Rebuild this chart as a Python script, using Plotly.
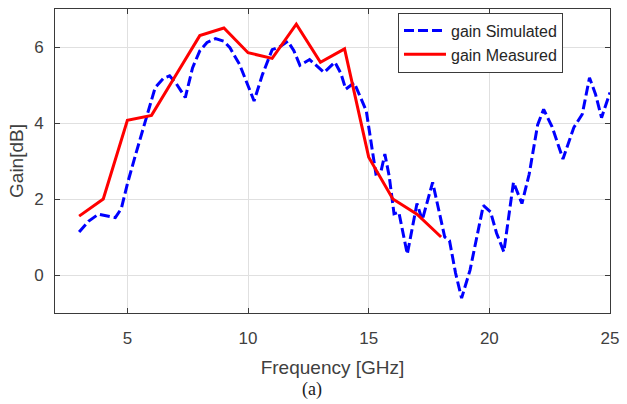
import plotly.graph_objects as go

# Simulated gain (dense sweep)
sim_freq = [3.0, 3.4, 3.8, 4.2, 4.5, 4.75, 5.0, 5.35, 5.75, 6.15, 6.5, 6.75, 7.0, 7.2, 7.4,
            7.7, 8.0, 8.3, 8.65, 9.0, 9.25, 9.65, 10.0, 10.25, 10.6, 11.0, 11.3, 11.65, 11.9,
            12.15, 12.55, 12.85, 13.15, 13.6, 13.85, 14.05, 14.4, 14.9, 15.1, 15.3, 15.5,
            15.67, 15.85, 16.05, 16.25, 16.6, 17.0, 17.22, 17.65, 18.15, 18.35, 18.6, 18.85,
            19.2, 19.75, 20.05, 20.3, 20.6, 21.0, 21.35, 21.65, 22.0, 22.25, 22.6, 23.05,
            23.5, 23.85, 24.15, 24.4, 24.65, 25.0]
sim_gain = [1.13, 1.42, 1.6, 1.55, 1.51, 1.75, 2.4, 3.19, 4.06, 4.93, 5.18, 5.24, 5.06, 4.85,
            4.67, 5.45, 5.9, 6.12, 6.22, 6.15, 5.98, 5.54, 5.0, 4.58, 5.28, 5.93, 6.0, 6.15,
            5.9, 5.52, 5.67, 5.5, 5.33, 5.6, 5.3, 4.89, 5.06, 4.32, 3.45, 2.66, 2.7, 3.18,
            2.6, 1.61, 1.65, 0.55, 1.88, 1.45, 2.44, 1.0, 0.9, 0.05, -0.61, 0.13, 1.83, 1.66,
            1.1, 0.61, 2.44, 1.88, 2.65, 3.95, 4.36, 3.9, 3.05, 3.88, 4.23, 5.19, 4.76, 4.14,
            4.8]

# Measured gain (1 GHz steps)
meas_freq = [3, 4, 5, 6, 7, 8, 9, 10, 11, 12, 13, 14, 15, 16, 17, 18]
meas_gain = [1.55, 2.0, 4.07, 4.2, 5.25, 6.3, 6.5, 5.85, 5.7, 6.6, 5.6, 5.95, 3.1, 2.0, 1.6, 1.0]

x_ticks = [5, 10, 15, 20, 25]
y_ticks = [0, 2, 4, 6]

FONT = "Arial, Liberation Sans, Helvetica, sans-serif"
TXT = "#404040"
AX = "#3a3a3a"
GRID = "#e0e0e0"

fig = go.Figure()
fig.add_trace(go.Scatter(
    x=sim_freq, y=sim_gain, mode="lines", name="gain Simulated",
    line=dict(color="#0000ff", width=3, dash="10px,4px"),
))
fig.add_trace(go.Scatter(
    x=meas_freq, y=meas_gain, mode="lines", name="gain Measured",
    line=dict(color="#ff0000", width=3),
))

axis_common = dict(
    showline=True, mirror="ticks", linecolor=AX, linewidth=1,
    ticks="inside", ticklen=5, tickcolor=AX,
    showgrid=True, gridcolor=GRID, gridwidth=1,
    zeroline=False,
    tickfont=dict(family=FONT, size=17, color=TXT),
)

fig.update_layout(
    width=627, height=404,
    margin=dict(l=55, r=15, t=8, b=91),
    paper_bgcolor="white", plot_bgcolor="white",
    font=dict(family=FONT, color=TXT),
    xaxis=dict(
        range=[2, 25], tickvals=x_ticks, ticklabelstandoff=10,
        title=dict(text="Frequency [GHz]", font=dict(family=FONT, size=19, color=TXT),
                   standoff=13),
        **axis_common,
    ),
    yaxis=dict(
        range=[-1, 7], tickvals=y_ticks, ticklabelstandoff=7,
        title=dict(text="Gain[dB]", font=dict(family=FONT, size=19, color=TXT),
                   standoff=5),
        **axis_common,
    ),
    legend=dict(
        x=0.618, y=0.988, xanchor="left", yanchor="top",
        bgcolor="white", bordercolor=AX, borderwidth=1,
        font=dict(family=FONT, size=16, color="#262626"),
        tracegroupgap=0, itemwidth=42,
    ),
    showlegend=True,
    annotations=[dict(
        text="(a)", xref="paper", yref="paper",
        x=(313 - 55) / 557, y=(313 - 390) / 305,
        xanchor="center", yanchor="middle", showarrow=False,
        font=dict(family="Liberation Serif, Times New Roman, serif", size=18, color="#202020"),
    )],
)

fig.write_html("out.html")
